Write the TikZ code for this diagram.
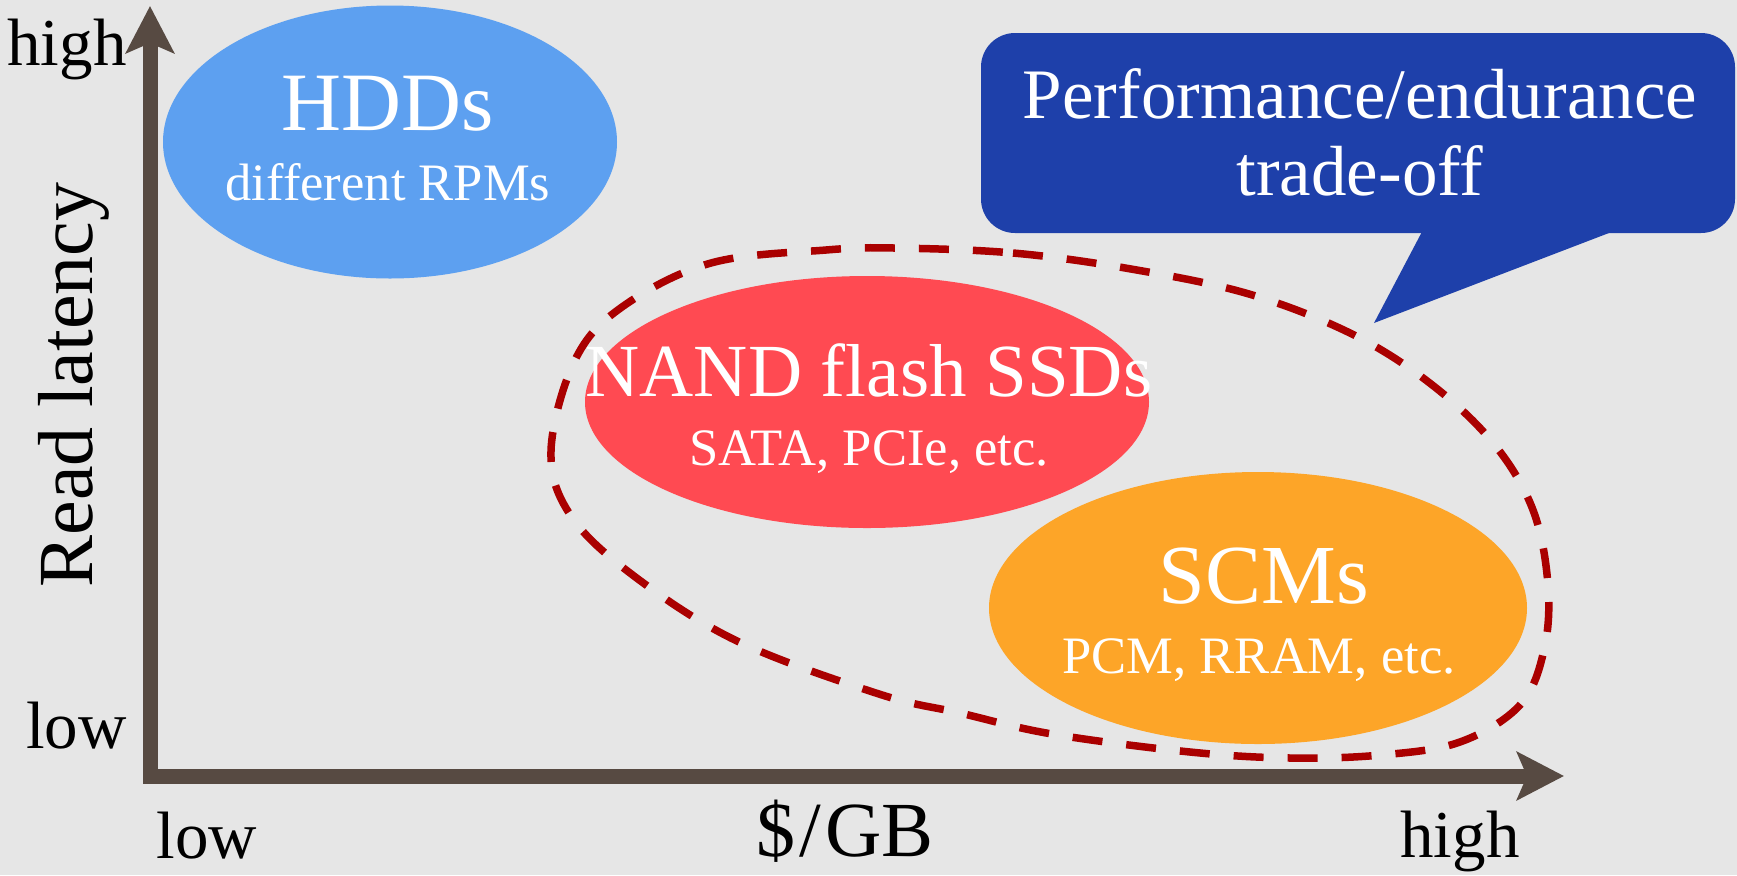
\documentclass[tikz,border=0pt]{standalone}
\usepackage{fontspec}
\setmainfont{Liberation Serif}
\usetikzlibrary{shapes.geometric,arrows.meta,calc}

\definecolor{axisbrown}{RGB}{87,74,66}
\definecolor{hddblue}{RGB}{93,160,240}
\definecolor{nandred}{RGB}{255,74,82}
\definecolor{scmorange}{RGB}{253,165,40}
\definecolor{noteblue}{RGB}{30,64,170}
\definecolor{loopred}{RGB}{170,0,0}
\definecolor{paper}{RGB}{230,230,230}

\begin{document}
\begin{tikzpicture}[x=0.5pt,y=-0.5pt,
    blob/.style={ellipse,inner sep=0,draw=none},
    axisline/.style={line width=7.5pt,draw=axisbrown,line join=miter,
        {Stealth[length=23.5pt,width=24pt,inset=5pt]}-{Stealth[length=23.5pt,width=24pt,inset=5pt]}},
    tradeoff/.style={draw=loopred,line width=3.75pt,dash pattern=on 15pt off 12pt},
    inside/.style={text=white,inner sep=0,anchor=base},
    axislabel/.style={text=black,inner sep=0,anchor=base}]
    \providecommand{\hddsize}{\fontsize{41.5pt}{45pt}\selectfont}
    \providecommand{\nandsize}{\fontsize{37.5pt}{40pt}\selectfont}
    \providecommand{\scmsize}{\fontsize{42pt}{45pt}\selectfont}
    \providecommand{\subsize}{\fontsize{26.3pt}{30pt}\selectfont}
    \providecommand{\notesize}{\fontsize{35.5pt}{38pt}\selectfont}
    \providecommand{\ticksize}{\fontsize{33.5pt}{36pt}\selectfont}
    \providecommand{\titlesize}{\fontsize{39pt}{42pt}\selectfont}
    \fill[paper] (0,0) rectangle (1737,875);
    \useasboundingbox (0,0) rectangle (1737,875);
    % trade-off region
    \draw[tradeoff] plot[smooth cycle,tension=0.6] coordinates {
        (894,248) (1013,253) (1131,269) (1249,294) (1352,334) (1431,384)
        (1494,444) (1533,510) (1548,585) (1544,650) (1520,705) (1460,742)
        (1381,755) (1290,758) (1190,752) (1052,734) (960,713) (879,694)
        (737,641) (634,576) (571,516) (551,451) (575,360) (622,307)
        (711,263) (826,250)};
    % storage classes
    \node[blob,fill=hddblue,minimum width=227pt,minimum height=136.5pt] (hdd) at (390,142) {};
    \node[blob,fill=nandred,minimum width=282pt,minimum height=126pt] (nand) at (867,402) {};
    \node[blob,fill=scmorange,minimum width=269pt,minimum height=136pt] (scm) at (1258,608) {};
    \node[inside] (hddname) at (388,130) {\hddsize HDDs};
    \node[inside] (hddsub) at (388,200) {\subsize different RPMs};
    \node[inside] (nandname) at (869,396) {\nandsize NAND flash SSDs};
    \node[inside] (nandsub) at (869,465) {\subsize SATA, PCIe, etc.};
    \node[inside] (scmname) at (1264,603) {\scmsize SCMs};
    \node[inside] (scmsub) at (1259,673) {\subsize PCM, RRAM, etc.};
    % speech bubble
    \node[fill=noteblue,rounded corners=17pt,minimum width=377pt,minimum height=100pt,inner sep=0] (note) at (1358,133) {};
    \coordinate (notetip) at (1374,323);
    \fill[noteblue] ($(note.south west)!0.585!(note.south east)+(0,-2)$) -- (notetip)
        -- ($(note.south west)!0.838!(note.south east)+(0,-2)$) -- cycle;
    \node[inside] (noteline1) at (1360,118) {\notesize Performance/endurance};
    \node[inside] (noteline2) at (1360,195) {\notesize trade-off};
    % axes
    \coordinate (ytip) at (150,6);
    \coordinate (origin) at (150,776);
    \coordinate (xtip) at (1564,776);
    \draw[axisline] (ytip) -- (origin) -- (xtip);
    \node[axislabel,anchor=base east] (yhigh) at (127,65) {\ticksize high};
    \node[axislabel,anchor=base east] (ylow) at (127,748) {\ticksize low};
    \node[axislabel,rotate=90] (ytitle) at (92,385) {\titlesize Read latency};
    \node[axislabel] (xlow) at (207,858) {\ticksize low};
    \node[axislabel] (xtitle) at (845,856) {\titlesize \$\kern2pt/\kern2pt GB};
    \node[axislabel] (xhigh) at (1460,857) {\ticksize high};
\end{tikzpicture}
\end{document}
